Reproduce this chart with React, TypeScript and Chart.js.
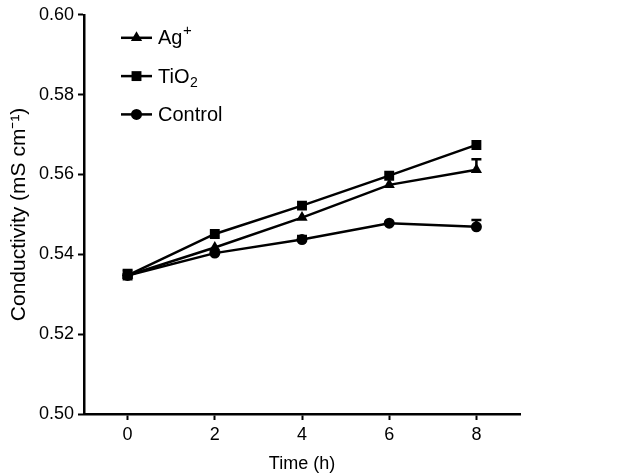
import React, { useEffect, useRef } from "react";
import { Chart, registerables } from "chart.js";
import { drawPoint } from "chart.js/helpers";

Chart.register(...registerables);

const hours = [0, 2, 4, 6, 8];
const agValues = [0.5347, 0.5417, 0.5492, 0.5574, 0.5612];
const tio2Values = [0.5347, 0.5451, 0.5522, 0.5597, 0.5674];
const controlValues = [0.5347, 0.5403, 0.5437, 0.5478, 0.5469];
const agErrors = [0.0, 0.0, 0.0, 0.0, 0.0026];
const tio2Errors = [0.0014, 0.0, 0.0, 0.0, 0.0];
const controlErrors = [0.0, 0.0, 0.0009, 0.0, 0.0017];
const seriesNames = ["Ag", "TiO", "Control"];
const seriesSup = ["+", "", ""];
const seriesSub = ["", "2", ""];
const seriesMarkers = ["triangle", "rect", "circle"];
const seriesRadius = [6.5, 7, 5.5];
const yTicks = [0.5, 0.52, 0.54, 0.56, 0.58, 0.6];
const xTicks = [0, 2, 4, 6, 8];

const FONT = "'Liberation Sans', Arial, sans-serif";

const errorPlugin = {
  id: "errorBars",
  afterDatasetsDraw(chart: any) {
    const ctx = chart.ctx;
    const xs = chart.scales.x;
    const ys = chart.scales.y;
    const errs = [agErrors, tio2Errors, controlErrors];
    const vals = [agValues, tio2Values, controlValues];
    ctx.save();
    ctx.strokeStyle = "#000";
    ctx.lineWidth = 2.5;
    errs.forEach((e, i) => {
      e.forEach((err, j) => {
        if (!err) return;
        const x = xs.getPixelForValue(hours[j]);
        const y0 = ys.getPixelForValue(vals[i][j]);
        const y1 = ys.getPixelForValue(vals[i][j] + err);
        ctx.beginPath();
        ctx.moveTo(x, y0);
        ctx.lineTo(x, y1);
        ctx.moveTo(x - 5, y1);
        ctx.lineTo(x + 5, y1);
        ctx.stroke();
      });
    });
    ctx.restore();
  },
};

const legendPlugin = {
  id: "customLegend",
  afterDraw(chart: any) {
    const ctx = chart.ctx;
    const area = chart.chartArea;
    ctx.save();
    seriesNames.forEach((name, i) => {
      const y = area.top + 23 + i * 38.3;
      const x0 = area.left + 37;
      ctx.strokeStyle = "#000";
      ctx.lineWidth = 2.5;
      ctx.beginPath();
      ctx.moveTo(x0, y);
      ctx.lineTo(x0 + 31, y);
      ctx.stroke();
      ctx.fillStyle = "#000";
      drawPoint(ctx, { pointStyle: seriesMarkers[i], radius: seriesRadius[i], borderWidth: 0, rotation: 0 }, x0 + 15.5, y);
      ctx.fillStyle = "#000";
      ctx.textBaseline = "middle";
      ctx.textAlign = "left";
      ctx.font = `20px ${FONT}`;
      let tx = x0 + 37;
      ctx.fillText(name, tx, y + 1);
      tx += ctx.measureText(name).width;
      if (seriesSup[i]) {
        ctx.font = `15px ${FONT}`;
        ctx.fillText(seriesSup[i], tx + 0.5, y - 7);
      }
      if (seriesSub[i]) {
        ctx.font = `14px ${FONT}`;
        ctx.fillText(seriesSub[i], tx + 0.5, y + 7);
      }
    });
    ctx.restore();
  },
};

export default function App() {
  const ref = useRef<HTMLCanvasElement>(null);
  useEffect(() => {
    if (!ref.current) return;
    const mk = (label: string, data: number[], i: number) => ({
      label,
      data: hours.map((h, j) => ({ x: h, y: data[j] })),
      borderColor: "#000",
      backgroundColor: "#000",
      borderWidth: 2.5,
      pointStyle: seriesMarkers[i],
      pointRadius: seriesRadius[i],
      pointBorderWidth: 0,
      pointBackgroundColor: "#000",
      tension: 0,
    });
    const chart = new Chart(ref.current, {
      type: "line",
      data: {
        datasets: [
          mk("Ag⁺", agValues, 0),
          mk("TiO₂", tio2Values, 1),
          mk("Control", controlValues, 2),
        ],
      },
      plugins: [errorPlugin, legendPlugin],
      options: {
        animation: false,
        responsive: false,
        devicePixelRatio: 1,
        layout: { padding: { top: 14, right: 116, left: 0, bottom: 0 } },
        plugins: { legend: { display: false }, tooltip: { enabled: false } },
        scales: {
          x: {
            type: "linear",
            min: -1,
            max: 9,
            afterBuildTicks: (s: any) => {
              s.ticks = xTicks.map((v) => ({ value: v }));
            },
            afterFit: (s: any) => {
              s.height = 61;
            },
            border: { color: "#000", width: 2.5 },
            grid: { drawOnChartArea: false, drawTicks: true, tickLength: 6, tickWidth: 2, tickColor: "#000" },
            ticks: { color: "#000", font: { family: FONT, size: 18 }, padding: 4, maxRotation: 0 },
            title: { display: true, text: "Time (h)", color: "#000", font: { family: FONT, size: 18 }, padding: { top: 0, bottom: 0 } },
          },
          y: {
            min: 0.5,
            max: 0.6,
            afterBuildTicks: (s: any) => {
              s.ticks = yTicks.map((v) => ({ value: v }));
            },
            afterFit: (s: any) => {
              s.width = 84;
            },
            border: { color: "#000", width: 2.5 },
            grid: { drawOnChartArea: false, drawTicks: true, tickLength: 6, tickWidth: 2, tickColor: "#000" },
            ticks: { color: "#000", font: { family: FONT, size: 18 }, padding: 4, callback: (v: any) => Number(v).toFixed(2) },
            title: { display: true, text: "Conductivity (mS cm⁻¹)", color: "#000", font: { family: FONT, size: 21 }, padding: { top: 7, bottom: 0 } },
          },
        },
      },
    } as any);
    return () => chart.destroy();
  }, []);
  return (
    <div style={{ position: "fixed", left: 0, top: 0, width: 636, height: 475, background: "#fff" }}>
      <canvas ref={ref} width={636} height={475} style={{ width: 636, height: 475 }} />
    </div>
  );
}
